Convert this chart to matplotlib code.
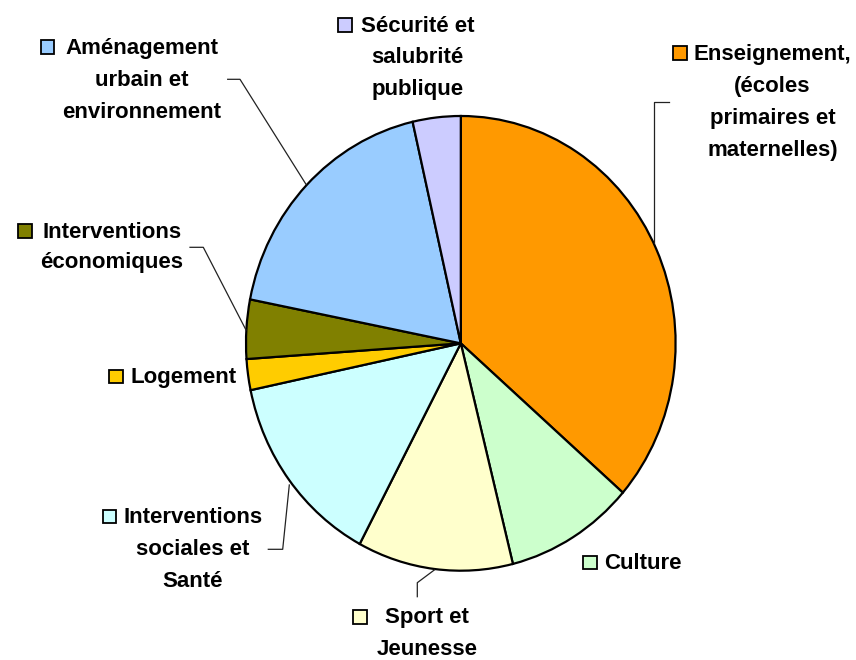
import matplotlib
matplotlib.use("Agg")
import matplotlib.pyplot as plt
from matplotlib.patches import Rectangle
from matplotlib.lines import Line2D

# ---- data ----
categories = [
    "Enseignement, (écoles primaires et maternelles)",
    "Culture",
    "Sport et Jeunesse",
    "Interventions sociales et Santé",
    "Logement",
    "Interventions économiques",
    "Aménagement urbain et environnement",
    "Sécurité et salubrité publique",
]
values = [36.4, 9.7, 11.7, 13.9, 2.2, 4.2, 18.3, 3.6]
colors = ["#FF9900", "#CCFFCC", "#FFFFCC", "#CCFFFF",
          "#FFCC00", "#808000", "#99CCFF", "#CCCCFF"]
label_lines = [
    ["Enseignement,", "(écoles", "primaires et", "maternelles)"],
    ["Culture"],
    ["Sport et", "Jeunesse"],
    ["Interventions", "sociales et", "Santé"],
    ["Logement"],
    ["Interventions", "économiques"],
    ["Aménagement", "urbain et", "environnement"],
    ["Sécurité et", "salubrité", "publique"],
]

W, H = 856, 660
fig = plt.figure(figsize=(W / 100, H / 100), dpi=100)
fig.patch.set_facecolor("white")

def fx(x):
    return x / W

def fy(y):
    return 1 - y / H

# pie axes (slightly taller than wide, as in the reference)
left, right, top, bottom = 246.0, 675.6, 116.0, 570.7
ax = fig.add_axes([fx(left), fy(bottom), (right - left) / W, (bottom - top) / H])
ax.pie(values, colors=colors, startangle=90, counterclock=False,
       wedgeprops=dict(edgecolor="black", linewidth=1.6))
ax.set_aspect("auto")
ax.set_xlim(-1, 1)
ax.set_ylim(-1, 1)
ax.axis("off")
for p in ax.patches:
    p.set_clip_on(False)

# ---- label layout (pixel positions) ----
# (text centre x, first baseline y, line spacing, square left x)
layout = [
    (772.5, 60.0, 32.0, 673.3),
    (642.5, 569.3, 32.0, 583.3),
    (427.0, 623.5, 31.5, 353.3),
    (193.0, 523.3, 31.7, 102.7),
    (183.3, 383.3, 32.0, 109.0),
    (111.7, 237.7, 30.6, 18.3),
    (142.0, 54.0, 31.8, 40.7),
    (417.5, 31.7, 31.7, 338.3),
]

font = dict(family=["Liberation Sans", "DejaVu Sans"], weight="bold",
            fontsize=16, color="#000000")

for (cx, by, dy, sqx), lines, col in zip(layout, label_lines, colors):
    for i, ln in enumerate(lines):
        fig.text(fx(cx), fy(by + i * dy), ln, ha="center", va="baseline", **font)
    sq = 13.5
    fig.patches.append(Rectangle((fx(sqx), fy(by)), sq / W, sq / H,
                                 transform=fig.transFigure, facecolor=col,
                                 edgecolor="black", linewidth=1.3))

# ---- leader lines (pixel coords) ----
leaders = [
    [(668.7, 101.7), (654.3, 101.7), (654.3, 243.3)],
    [(434.3, 570.0), (417.3, 582.7), (417.3, 596.7)],
    [(268.3, 549.3), (282.7, 549.3), (289.3, 485.0)],
    [(190.0, 247.3), (203.3, 247.3), (246.0, 330.0)],
    [(227.7, 79.3), (240.0, 79.3), (306.0, 184.3)],
]
for pts in leaders:
    xs = [fx(p[0]) for p in pts]
    ys = [fy(p[1]) for p in pts]
    fig.lines.append(Line2D(xs, ys, transform=fig.transFigure,
                            color="#222222", linewidth=0.9))

fig.savefig("out.png", dpi=100, facecolor="white")
